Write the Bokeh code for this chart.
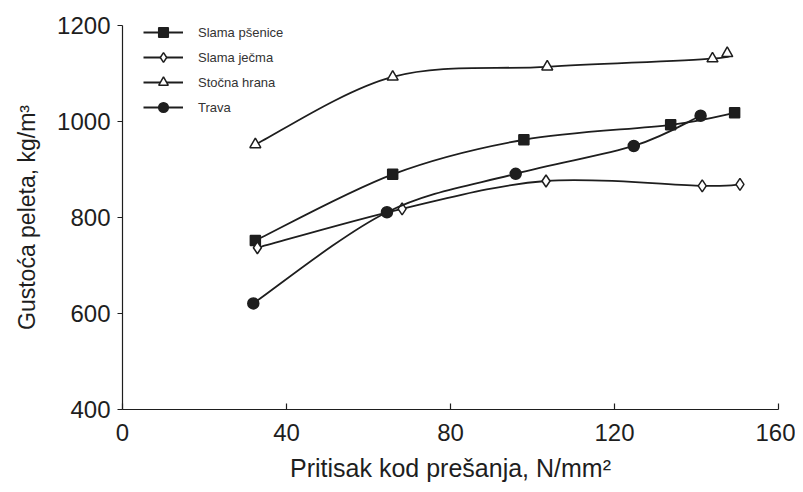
from bokeh.plotting import figure
from bokeh.models import Range1d, Legend, LegendItem, FixedTicker, ColumnDataSource
from bokeh.embed import file_html
from bokeh.resources import INLINE

# ---- data ----
series_names = ["Slama pšenice", "Slama ječma", "Stočna hrana", "Trava"]
x_psenica = [32.4, 65.9, 97.9, 133.7, 149.3]
y_psenica = [752, 890, 962, 993, 1018]
x_jecam = [32.9, 68.2, 103.3, 141.4, 150.6]
y_jecam = [737, 818, 876, 866, 869]
x_stocna = [32.4, 65.9, 103.6, 143.9, 147.5]
y_stocna = [952, 1093, 1114, 1131, 1142]
x_trava = [31.9, 64.5, 95.9, 124.7, 141.0]
y_trava = [621, 811, 891, 949, 1012]
x_ticks = [0, 40, 80, 120, 160]
y_ticks = [400, 600, 800, 1000, 1200]

FONT = "Liberation Sans"
INK = "#1e1e1e"


def bezier_source(xs, ys):
    """Catmull-Rom style control points so the library draws smooth curves through the points."""
    n = len(xs)
    d = dict(x0=[], y0=[], x1=[], y1=[], cx0=[], cy0=[], cx1=[], cy1=[])
    for i in range(n - 1):
        a = i - 1 if i > 0 else i
        b = i + 2 if i + 2 < n else i + 1
        d["x0"].append(xs[i]); d["y0"].append(ys[i])
        d["x1"].append(xs[i + 1]); d["y1"].append(ys[i + 1])
        d["cx0"].append(xs[i] + (xs[i + 1] - xs[a]) / 6.0)
        d["cy0"].append(ys[i] + (ys[i + 1] - ys[a]) / 6.0)
        d["cx1"].append(xs[i + 1] - (xs[b] - xs[i]) / 6.0)
        d["cy1"].append(ys[i + 1] - (ys[b] - ys[i]) / 6.0)
    return ColumnDataSource(d)


p = figure(width=795, height=484,
           x_range=Range1d(0, 160), y_range=Range1d(400, 1200),
           output_backend="svg", toolbar_location=None,
           min_border_left=122, min_border_right=17,
           min_border_top=25, min_border_bottom=72)
p.outline_line_color = None
p.grid.visible = False
p.background_fill_color = "white"
p.border_fill_color = "white"

series = [
    (series_names[0], x_psenica, y_psenica, "square", INK, 10),
    (series_names[1], x_jecam, y_jecam, "diamond", "white", 12),
    (series_names[2], x_stocna, y_stocna, "triangle", "white", 11),
    (series_names[3], x_trava, y_trava, "circle", INK, 11),
]

items = []
for name, xs, ys, marker, fill, size in series:
    src = bezier_source(xs, ys)
    p.bezier(x0="x0", y0="y0", x1="x1", y1="y1", cx0="cx0", cy0="cy0",
             cx1="cx1", cy1="cy1", source=src, line_color=INK, line_width=1.8)
    # single-point line: draws nothing in the plot, only gives the legend its line
    leg_line = p.line(x=xs[:1], y=ys[:1], line_color=INK, line_width=1.8)
    sc = p.scatter(xs, ys, marker=marker, size=size, fill_color=fill,
                   line_color=INK, line_width=1.5)
    items.append(LegendItem(label=name, renderers=[leg_line, sc]))

legend = Legend(items=items, location=(21, 290), padding=0, margin=0, spacing=1,
                glyph_width=40, glyph_height=24, label_height=24, label_standoff=15,
                label_text_font=FONT, label_text_font_size="13px",
                label_text_color="#333333", border_line_color=None,
                background_fill_alpha=0)
p.add_layout(legend)

# axes
p.xaxis.ticker = FixedTicker(ticks=x_ticks)
p.yaxis.ticker = FixedTicker(ticks=y_ticks)
for ax in (p.xaxis[0], p.yaxis[0]):
    ax.axis_line_color = INK
    ax.axis_line_width = 1.2
    ax.major_tick_line_color = INK
    ax.major_tick_line_width = 1.2
    ax.minor_tick_line_color = None
    ax.major_label_text_font = FONT
    ax.major_label_text_font_size = "24px"
    ax.major_label_text_color = INK
    ax.axis_label_text_font = FONT
    ax.axis_label_text_font_style = "normal"
    ax.axis_label_text_color = INK

p.xaxis.major_tick_in = 6
p.xaxis.major_tick_out = 0
p.xaxis.major_label_standoff = 14
p.xaxis.axis_label = "Pritisak kod prešanja, N/mm²"
p.xaxis.axis_label_text_font_size = "25px"
p.xaxis.axis_label_standoff = 10

p.yaxis.major_tick_in = 0
p.yaxis.major_tick_out = 5
p.yaxis.major_label_standoff = 7
p.yaxis.axis_label = "Gustoća peleta, kg/m³"
p.yaxis.axis_label_text_font_size = "23px"
p.yaxis.axis_label_standoff = 14

open("out.html", "w").write(file_html(p, INLINE))
